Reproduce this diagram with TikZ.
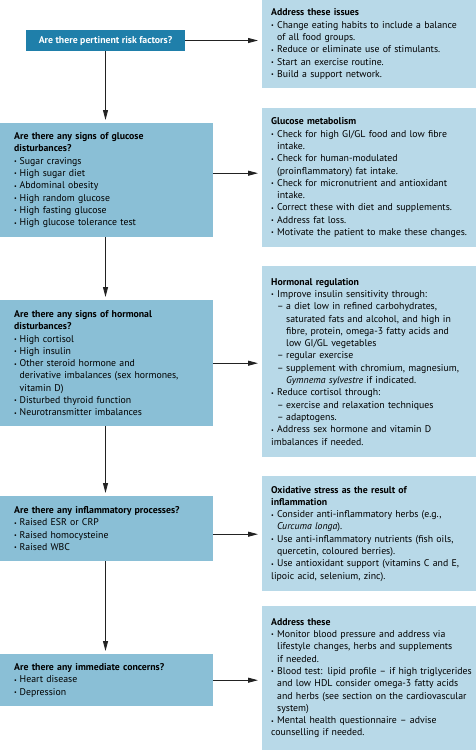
\documentclass[tikz,border=0pt]{standalone}
\usepackage{fontspec}
\setmainfont{PT Sans}
\usetikzlibrary{arrows.meta,positioning,calc}
\definecolor{riskCol}{HTML}{1F7FAA}
\definecolor{askCol}{HTML}{8ABFD6}
\definecolor{actCol}{HTML}{B8D9E8}
\definecolor{edgeColor}{HTML}{222222}
\newcommand{\bul}{\par\hangindent=6pt\hangafter=1\noindent\makebox[6pt][l]{\raisebox{0.6pt}{\fontsize{6}{6}\selectfont\textbullet}}}
\newcommand{\lbul}{\par\hangindent=5.5pt\hangafter=1\noindent\makebox[5.5pt][l]{\raisebox{0.6pt}{\fontsize{6}{6}\selectfont\textbullet}}}
\newcommand{\subitm}{\par\hangindent=15pt\hangafter=1\noindent\hspace*{6pt}\makebox[9pt][l]{--}}
\tikzstyle{flow}=[draw=edgeColor, line width=0.9pt, -{Triangle[length=10pt,width=5pt]}]
\tikzset{
    riskbox/.style={fill=riskCol, text=white, font=\fontsize{9.8}{12.3}\selectfont\bfseries,
        minimum width=159pt, minimum height=21pt, inner sep=0pt},
    askbox/.style={fill=askCol, anchor=north west, align=left, text width=185pt,
        inner xsep=14pt, inner ysep=0pt, minimum width=209pt, font=\fontsize{9.8}{12.3}\selectfont},
    actbox/.style={fill=actCol, anchor=north west, align=left, text width=210pt,
        inner xsep=9pt, inner ysep=0pt, minimum width=214pt, font=\fontsize{9.8}{12.3}\selectfont},
}
\begin{document}
\begin{tikzpicture}[x=1pt,y=-1pt]
    \useasboundingbox (0,0) rectangle (476,750);

    % === QUESTIONS ===
    \node[riskbox] (risk) at (105.5,40.5) {Are there pertinent risk factors?};

    \node[askbox, minimum height=114pt] (glucose) at (0,123) {%
        \textbf{Are there any signs of glucose}\newline\textbf{disturbances?}
        \lbul Sugar cravings
        \lbul High sugar diet
        \lbul Abdominal obesity
        \lbul High random glucose
        \lbul High fasting glucose
        \lbul High glucose tolerance test};

    \node[askbox, minimum height=126pt] (hormone) at (0,300) {%
        \textbf{Are there any signs of hormonal}\newline\textbf{disturbances?}
        \lbul High cortisol
        \lbul High insulin
        \lbul Other steroid hormone and\newline derivative imbalances (sex hormones,\newline vitamin D)
        \lbul Disturbed thyroid function
        \lbul Neurotransmitter imbalances};

    \node[askbox, minimum height=65pt] (inflam) at (0,496) {%
        \textbf{Are there any inflammatory processes?}
        \lbul Raised ESR or CRP
        \lbul Raised homocysteine
        \lbul Raised WBC};

    \node[askbox, minimum height=52pt] (concern) at (0,654) {%
        \textbf{Are there any immediate concerns?}
        \lbul Heart disease
        \lbul Depression};

    % === ACTIONS ===
    \node[actbox, minimum height=88pt] (issues) at (262,0) {%
        \textbf{Address these issues}
        \bul Change eating habits to include a balance\newline of all food groups.
        \bul Reduce or eliminate use of stimulants.
        \bul Start an exercise routine.
        \bul Build a support network.};

    \node[actbox, minimum height=139pt] (glucmet) at (262,108) {%
        \textbf{Glucose metabolism}
        \bul Check for high GI/GL food and low fibre\newline intake.
        \bul Check for human-modulated\newline (proinflammatory) fat intake.
        \bul Check for micronutrient and antioxidant\newline intake.
        \bul Correct these with diet and supplements.
        \bul Address fat loss.
        \bul Motivate the patient to make these changes.};

    \node[actbox, minimum height=191pt] (hormreg) at (262,266) {%
        \textbf{Hormonal regulation}
        \bul Improve insulin sensitivity through:
        \subitm a diet low in refined carbohydrates,\newline saturated fats and alcohol, and high in\newline fibre, protein, omega-3 fatty acids and\newline low GI/GL vegetables
        \subitm regular exercise
        \subitm supplement with chromium, magnesium,\newline \textit{Gymnema sylvestre} if indicated.
        \bul Reduce cortisol through:
        \subitm exercise and relaxation techniques
        \subitm adaptogens.
        \bul Address sex hormone and vitamin D\newline imbalances if needed.};

    \node[actbox, minimum height=115pt] (oxid) at (262,476) {%
        \textbf{Oxidative stress as the result of}\newline\textbf{inflammation}
        \bul Consider anti-inflammatory herbs (e.g.,\newline \textit{Curcuma longa}).
        \bul Use anti-inflammatory nutrients (fish oils,\newline quercetin, coloured berries).
        \bul Use antioxidant support (vitamins C and E,\newline lipoic acid, selenium, zinc).};

    \node[actbox, minimum height=144pt] (cardio) at (262,606) {%
        \textbf{Address these}
        \bul Monitor blood pressure and address via\newline lifestyle changes, herbs and supplements\newline if needed.
        \bul Blood test: lipid profile -- if high triglycerides\newline and low HDL consider omega-3 fatty acids\newline and herbs (see section on the cardiovascular\newline system)
        \bul Mental health questionnaire -- advise\newline counselling if needed.};

    % ==== CONNECTIONS ====
    % down the question column
    \draw[flow, shorten >=3pt] (risk.south) -- (risk.south |- glucose.north);
    \draw[flow, shorten >=3pt] (risk.south |- glucose.south) -- (risk.south |- hormone.north);
    \draw[flow, shorten >=3pt] (risk.south |- hormone.south) -- (risk.south |- inflam.north);
    \draw[flow, shorten >=3pt] (risk.south |- inflam.south) -- (risk.south |- concern.north);

    % across to the actions
    \draw[flow, shorten >=4pt] (risk.east) -- (risk.east -| issues.west);
    \draw[flow, shorten >=4pt] ([yshift=7pt]glucose.east) -- ([yshift=7pt]glucose.east -| glucmet.west);
    \draw[flow, shorten >=4pt] (hormone.east) -- (hormone.east -| hormreg.west);
    \draw[flow, shorten >=4pt] ([yshift=-5.5pt]inflam.east) -- ([yshift=-5.5pt]inflam.east -| oxid.west);
    \draw[flow, shorten >=4pt] (concern.east) -- (concern.east -| cardio.west);

\end{tikzpicture}
\end{document}
